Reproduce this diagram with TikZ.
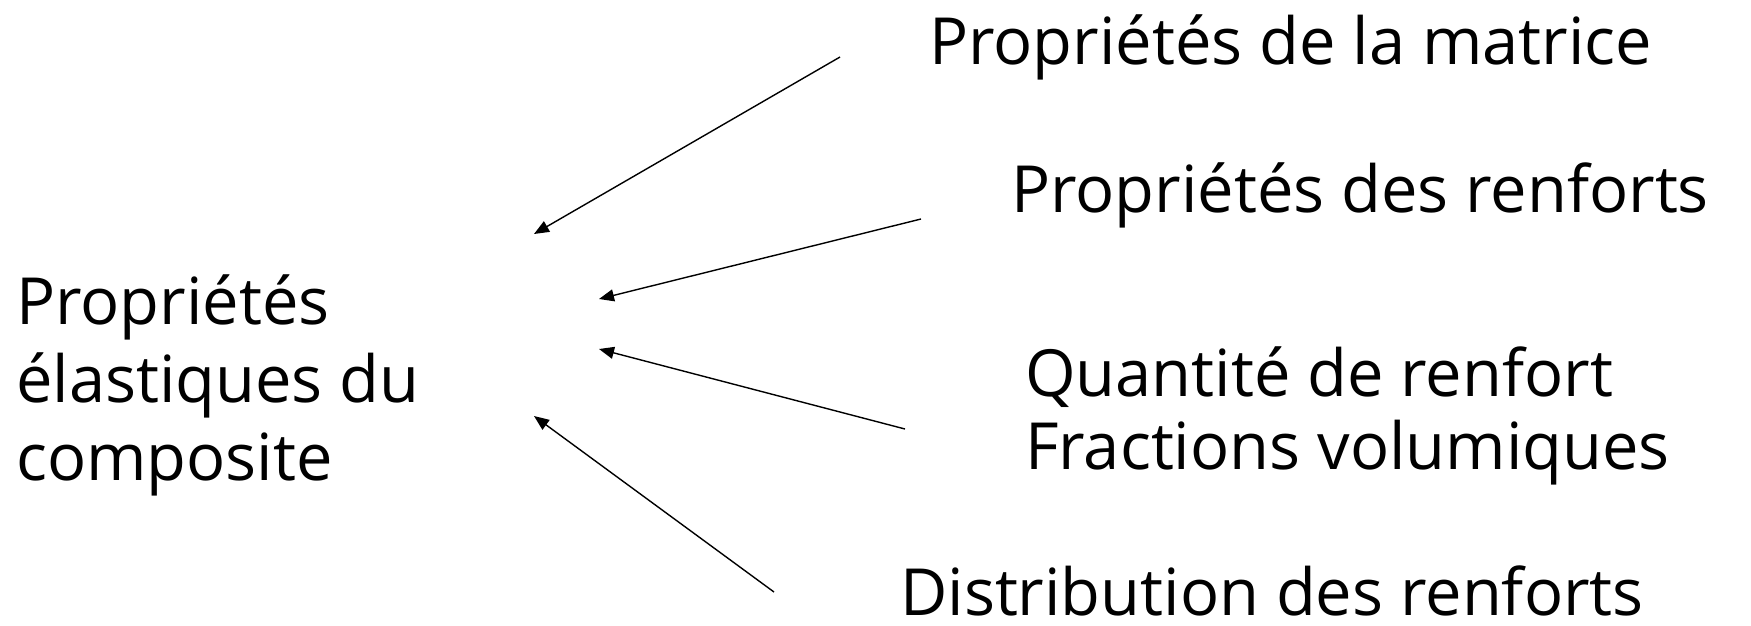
\documentclass[tikz,border=0pt]{standalone}
\usepackage{fontspec}
\setmainfont{Open Sans}
\usetikzlibrary{arrows.meta}
\begin{document}
\begin{tikzpicture}[x=1pt,y=-1pt,
  lbl/.style={anchor=base west,inner sep=0pt,font=\fontsize{65}{78}\selectfont},
  conn/.style={line width=1.4pt,-{Triangle[length=15pt,width=12pt]}}]
\useasboundingbox (0,0) rectangle (1751,625);
\node[lbl,align=left,anchor=north west] (comp) at (16,274) {Propriétés\\élastiques du\\composite};
\node[lbl] (mat) at (929,64) {Propriétés de la matrice};
\node[lbl] (renf) at (1011,212) {Propriétés des renforts};
\node[lbl] (qte) at (1025,396) {Quantité de renfort};
\node[lbl] (frac) at (1025,469) {Fractions volumiques};
\node[lbl,text depth=0pt] (dist) at (900,615) {Distribution des renforts};
\coordinate (s1) at (840,57);   \coordinate (t1) at (534,234);
\coordinate (s2) at (921,219);  \coordinate (t2) at (599,299);
\coordinate (s3) at (905,429);  \coordinate (t3) at (599,349);
\coordinate (s4) at (774,592);  \coordinate (t4) at (534,416);
\draw[conn] (s1) -- (t1);
\draw[conn] (s2) -- (t2);
\draw[conn] (s3) -- (t3);
\draw[conn] (s4) -- (t4);
\end{tikzpicture}
\end{document}
